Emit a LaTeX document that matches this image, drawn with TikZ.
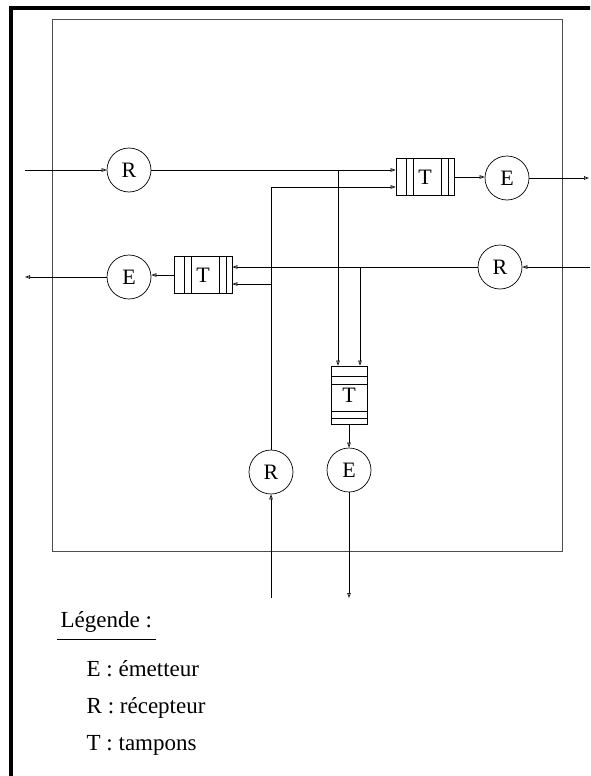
\documentclass[tikz,border=0pt]{standalone}
\usepackage{fontspec}
\setmainfont{Liberation Serif}
\usetikzlibrary{arrows.meta}
\begin{document}
\begin{tikzpicture}[x=1pt,y=-1pt,line width=0.7pt,
		lbl/.style={font=\fontsize{22}{26}\selectfont},
		leglbl/.style={font=\fontsize{23}{27}\selectfont},
		station/.style={draw, circle, minimum size=44pt, inner sep=0pt, lbl},
		bufh/.style={draw, minimum width=58pt, minimum height=37pt, inner sep=0pt, lbl,
			path picture={
				\foreach \d in {10,17,45,52}
				\draw ([xshift=\d pt]path picture bounding box.north west) -- ([xshift=\d pt]path picture bounding box.south west);
			}},
		bufv/.style={draw, minimum width=36pt, minimum height=58pt, inner sep=0pt, lbl,
			path picture={
				\foreach \d in {10,18,45,52}
				\draw ([yshift=-\d pt]path picture bounding box.north west) -- ([yshift=-\d pt]path picture bounding box.north east);
			}},
		arr/.style={-{Triangle[open,length=5pt,width=3.5pt]}}
		]
		\useasboundingbox (0,0) rectangle (590,776);
		\clip (0,0) rectangle (590,776);
		% cadres
		\draw[line width=3.5pt] (11,800) -- (11,8) -- (620,8);
		\draw[black!70, line width=1pt] (52,20) rectangle (562,551);
		% stations
		\node[station] (rA) at (129,170) {R};
		\node[bufh] (tA) at (425,177) {T};
		\node[station] (eA) at (507,178) {E};
		\node[station] (rB) at (500,267) {R};
		\node[bufh] (tB) at (203,275) {T};
		\node[station] (eB) at (129,277) {E};
		\node[station] (rC) at (271,472) {R};
		\node[bufv] (tC) at (349,395) {T};
		\node[station] (eC) at (349,470) {E};
		% extremites
		\coordinate (inA) at (25,170);
		\coordinate (outA) at (589,178);
		\coordinate (inB) at (590,267);
		\coordinate (outB) at (25,277);
		\coordinate (inC) at (271,598);
		\coordinate (outC) at (349,598);
		\coordinate (jA) at (338,170);
		\coordinate (jB) at (360,267);
		\coordinate (kA) at (271,187);
		\coordinate (kB) at (271,284);
		% liaisons
		\draw[arr] (inA) -- (rA);
		\draw[arr] (rA.east) -- (tA.west |- rA.east);
		\draw[arr] (tA.east) -- (eA.west |- tA.east);
		\draw[arr] (eA.east) -- (outA);
		\draw[arr] (inB) -- (rB);
		\draw[arr] (rB.west) -- (tB.east |- rB.west);
		\draw[arr] (tB.west) -- (eB.east |- tB.west);
		\draw[arr] (eB.west) -- (outB);
		\draw[arr] (inC) -- (rC);
		\draw[arr] (rC.north) -- (kA) -- (tA.west |- kA);
		\draw[arr] (kB) -- (tB.east |- kB);
		\draw[arr] (jA) -- (jA |- tC.north);
		\draw[arr] (jB) -- (jB |- tC.north);
		\draw[arr] (tC.south) -- (eC);
		\draw[arr] (eC.south) -- (outC);
		% legende
		\node[leglbl, anchor=base west] (leg) at (57,627) {Légende :};
		\draw (leg.base west) ++(0,12) coordinate (ulA) -- (ulA -| leg.base east);
		\foreach \t [count=\i] in {E : émetteur, R : récepteur, T : tampons}
		\node[leglbl, anchor=base west] (item\i) at (83,639+\i*37) {\t};
	\end{tikzpicture}
\end{document}
